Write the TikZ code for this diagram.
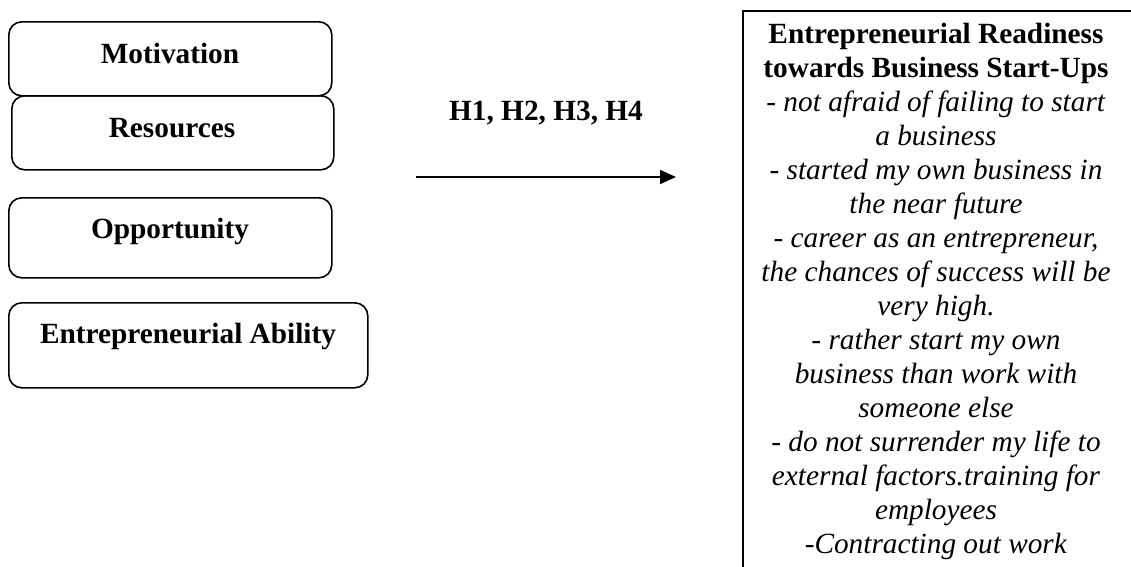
\documentclass[tikz,border=0pt]{standalone}
\usepackage{fontspec}
\setmainfont{Liberation Serif}
\usetikzlibrary{arrows.meta}
\begin{document}
\begin{tikzpicture}[x=1pt,y=-1pt,
  lbox/.style={draw, line width=1.6pt, rounded corners=13pt, inner sep=0pt, anchor=north west},
  btext/.style={anchor=base, inner sep=0pt, font=\fontsize{29.3}{34}\selectfont\bfseries},
  rtextstyle/.style={anchor=north, inner sep=0pt, align=center, font=\fontsize{29.3}{34}\selectfont},
  conn/.style={line width=1.6pt, -{Triangle[length=16pt,width=14pt]}}]
\useasboundingbox (0,0) rectangle (1131,566);
\fill[white] (0,0) rectangle (1131,566);
% left boxes
\node[lbox, minimum width=323pt, minimum height=74pt] (mot) at (8,21) {};
\node[btext] (motT) at (170,63) {Motivation};
\node[lbox, minimum width=322pt, minimum height=74pt] (res) at (11,95) {};
\node[btext] (resT) at (172,137) {Resources};
\node[lbox, minimum width=323pt, minimum height=80pt] (opp) at (8,197) {};
\node[btext] (oppT) at (170,238) {Opportunity};
\node[lbox, minimum width=359pt, minimum height=85pt] (abl) at (8,302) {};
\node[btext] (ablT) at (188,343) {Entrepreneurial Ability};
% arrow
\node[btext] (hyp) at (546,120) {H1, H2, H3, H4};
\coordinate (as) at (416,177);
\coordinate (ae) at (676,177);
\draw[conn] (as) -- (ae);
% right box (cropped at the right and bottom)
\begin{scope}
\clip (0,0) rectangle (1131,566);
\node[draw, line width=2pt, inner sep=0pt, anchor=north west, minimum width=420pt, minimum height=600pt] (rbox) at (742,10) {};
\end{scope}
\node[rtextstyle] (rtext) at (936,19.2) {\strut\textbf{Entrepreneurial Readiness}\\
\textbf{towards Business Start-Ups}\\
\textit{- not afraid of failing to start}\\
\textit{a business}\\
\textit{- started my own business in}\\
\textit{the near future}\\
\textit{- career as an entrepreneur,}\\
\textit{the chances of success will be}\\
\textit{very high.}\\
\textit{- rather start my own}\\
\textit{business than work with}\\
\textit{someone else}\\
\textit{- do not surrender my life to}\\
\textit{external factors.training for}\\
\textit{employees}\\
\textit{-Contracting out work}};
\end{tikzpicture}
\end{document}
